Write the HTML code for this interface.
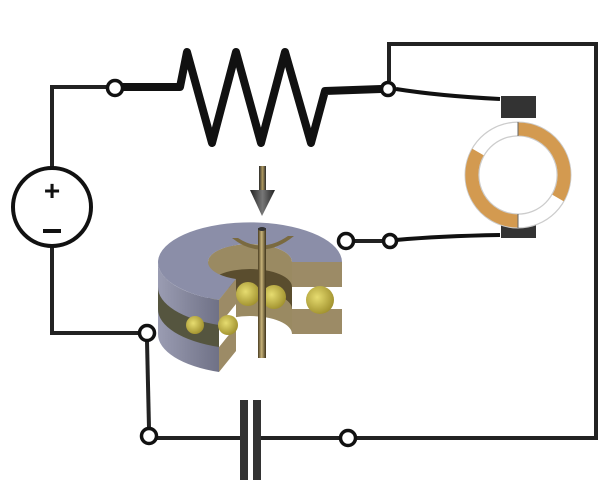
<!DOCTYPE html>
<html><head><style>html,body{margin:0;padding:0;background:#fff;}svg{display:block}</style></head>
<body>
<svg width="613" height="493" viewBox="0 0 613 493" xmlns="http://www.w3.org/2000/svg">
<defs>
<linearGradient id="rod" x1="0" x2="1" y1="0" y2="0"><stop offset="0" stop-color="#4a3e22"/><stop offset="0.45" stop-color="#c9b47a"/><stop offset="1" stop-color="#3e331a"/></linearGradient>
<linearGradient id="pin" x1="0" x2="1"><stop offset="0" stop-color="#2a2a2a"/><stop offset="0.5" stop-color="#b09a60"/><stop offset="1" stop-color="#2a2a2a"/></linearGradient>
<linearGradient id="cone" x1="0" x2="1"><stop offset="0" stop-color="#222"/><stop offset="0.5" stop-color="#777"/><stop offset="1" stop-color="#222"/></linearGradient>
<linearGradient id="wall" x1="0" x2="1"><stop offset="0" stop-color="#9a9cb2"/><stop offset="1" stop-color="#6f7186"/></linearGradient>
<radialGradient id="ball" cx="0.4" cy="0.4" r="0.7"><stop offset="0" stop-color="#e6dc70"/><stop offset="1" stop-color="#9a8a28"/></radialGradient>
</defs>
<g fill="none" stroke="#222" stroke-width="4">
<polyline points="115,87 52,87 52,168"/>
<polyline points="52,246 52,333 139,333"/>
<line x1="147" y1="341" x2="149" y2="428"/>
<line x1="157" y1="438" x2="243" y2="438"/>
<line x1="258" y1="438" x2="340" y2="438"/>
<polyline points="356,438 596,438 596,44 389,44 389,81"/>
</g>
<polyline points="123,87 180,87 187,52 212,143 236,52 261,143 285,52 311,143 325,91 381,89" fill="none" stroke="#111" stroke-width="8" stroke-linejoin="round" stroke-linecap="round"/>
<path d="M396,89 Q440,96 500,99" fill="none" stroke="#111" stroke-width="4"/>
<path d="M396,240 Q440,236 500,235" fill="none" stroke="#111" stroke-width="4"/>
<line x1="354" y1="241" x2="382" y2="241" stroke="#222" stroke-width="4"/>
<rect x="501" y="96" width="35" height="22" fill="#333"/>
<rect x="501" y="218" width="35" height="20" fill="#333"/>
<circle cx="518" cy="175" r="46" fill="none" stroke="#ccc" stroke-width="15"/>
<circle cx="518" cy="175" r="46" fill="none" stroke="#fff" stroke-width="12.5"/>
<path d="M518,129 A46,46 0 0 1 558,198" fill="none" stroke="#d39a50" stroke-width="13"/>
<path d="M478,152 A46,46 0 0 0 518,221" fill="none" stroke="#d39a50" stroke-width="13"/>
<line x1="518" y1="122" x2="518" y2="136" stroke="#666" stroke-width="1"/>
<line x1="518" y1="214" x2="518" y2="228" stroke="#666" stroke-width="1"/>
<circle cx="52" cy="207" r="39" fill="#fff" stroke="#111" stroke-width="4"/>
<text x="52" y="200" font-family="Liberation Sans, sans-serif" font-size="28" font-weight="bold" text-anchor="middle" fill="#111">+</text>
<rect x="43" y="229" width="18" height="4" fill="#111"/>
<rect x="240" y="400" width="8" height="80" fill="#333"/>
<rect x="253" y="400" width="8" height="80" fill="#333"/>
<!-- bearing -->
<path d="M292,262 A42,18 0 0 0 208,262 L208,334 A42,18 0 0 1 292,334 Z" fill="#9a8a62"/>
<path d="M292,287 A42,18 0 0 0 208,287 L208,309 A42,18 0 0 1 292,309 Z" fill="#5a4d2e"/>
<circle cx="222" cy="298" r="12" fill="url(#ball)"/>
<circle cx="248" cy="294" r="12" fill="url(#ball)"/>
<circle cx="274" cy="297" r="12" fill="url(#ball)"/>
<path d="M158,262 A92,40 0 0 0 219,300 L219,372 A92,40 0 0 1 158,334 Z" fill="url(#wall)"/>
<path d="M158,287 A92,40 0 0 0 219,325 L219,347 A92,40 0 0 1 158,309 Z" fill="#55553f"/>
<circle cx="195" cy="325" r="9" fill="url(#ball)"/>
<path d="M342,262 A92,40 0 1 0 219,300 L236,279 A42,18 0 1 1 292,262 Z" fill="#8b8ea8"/>
<rect x="292" y="262" width="50" height="25" fill="#9c8b66"/>
<rect x="292" y="309" width="50" height="25" fill="#9c8b66"/>
<rect x="292" y="287" width="50" height="22" fill="#fff"/>
<circle cx="320" cy="300" r="14" fill="url(#ball)"/>
<polygon points="219,300 236,279 236,304 219,325" fill="#9c8b66"/>
<polygon points="219,347 236,326 236,351 219,372" fill="#9c8b66"/>
<polygon points="219,325 236,304 236,326 219,347" fill="#fff"/>
<circle cx="228" cy="325" r="10" fill="url(#ball)"/>
<path d="M232,238 Q262,262 294,236 L288,236 Q262,254 238,238 Z" fill="#7a6a40"/>
<rect x="258" y="228" width="8" height="130" fill="url(#rod)"/>
<ellipse cx="262" cy="229" rx="4" ry="2" fill="#333"/>
<rect x="259" y="166" width="7" height="26" fill="url(#pin)"/>
<polygon points="250,190 275,190 262,216" fill="url(#cone)"/>
<g fill="#fff" stroke="#111" stroke-width="3.5">
<circle cx="115" cy="88" r="7.5"/>
<circle cx="388" cy="89" r="6.5"/>
<circle cx="346" cy="241" r="7.5"/>
<circle cx="390" cy="241" r="6.5"/>
<circle cx="147" cy="333" r="7.5"/>
<circle cx="149" cy="436" r="7.5"/>
<circle cx="348" cy="438" r="7.5"/>
</g>
</svg>
</body></html>
